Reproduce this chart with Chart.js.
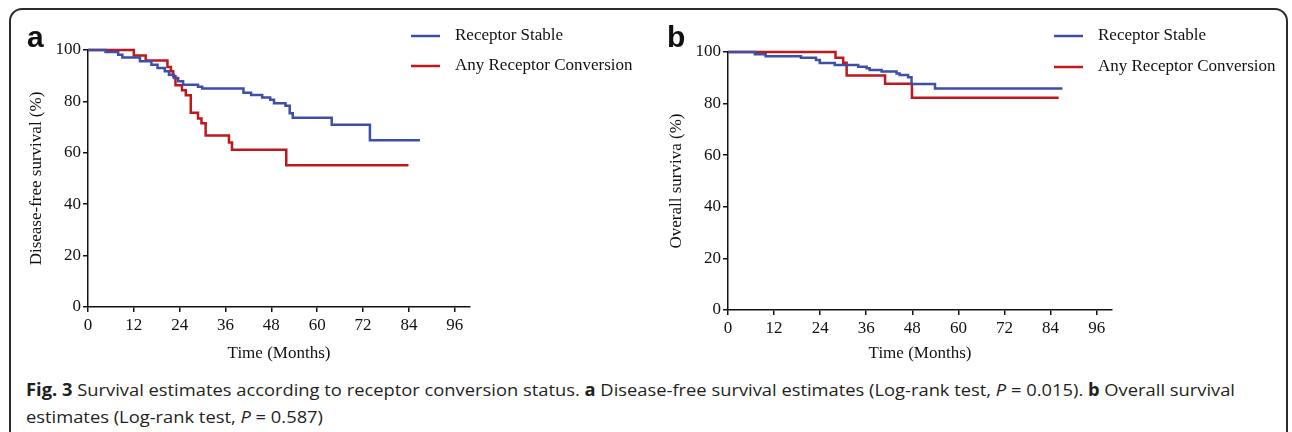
<!DOCTYPE html>
<html>
<head>
<meta charset="utf-8">
<script src="https://cdn.jsdelivr.net/npm/chart.js@4.4.0/dist/chart.umd.min.js"></script>
<style>
  html, body { margin: 0; padding: 0; background: #fff; }
  body { width: 1292px; height: 432px; position: relative; overflow: hidden; }
  #frame { position: absolute; left: 9px; top: 8px; width: 1275px; height: 450px;
           border: 2px solid #2b2b2b; border-radius: 13px; }
  canvas { position: absolute; top: 0; }
  #chartA { left: 0; }
  #chartB { left: 640px; }
  .panel { position: absolute; top: 22px; font: bold 30px "Liberation Sans", Arial, sans-serif;
           line-height: 30px; color: #111; }
  #caption { position: absolute; left: 26px; top: 376px; font: 17px "Open Sans", sans-serif;
             line-height: 27px; color: #231f20; white-space: nowrap; transform-origin: 0 0; }
</style>
</head>
<body>
<div id="frame"></div>
<canvas id="chartA" width="640" height="370"></canvas>
<canvas id="chartB" width="640" height="370"></canvas>
<div class="panel" style="left:27px">a</div>
<div class="panel" style="left:667px">b</div>
<div id="caption">
  <div><span id="capLine1"><b>Fig. 3</b> Survival estimates according to receptor conversion status. <b>a</b> Disease-free survival estimates (Log-rank test, <i>P</i> = 0.015). <b>b</b> Overall survival</span></div>
  <div>estimates (Log-rank test, <i>P</i> = 0.587)</div>
</div>
<script>
const xTicks = [0, 12, 24, 36, 48, 60, 72, 84, 96];
const yTicks = [0, 20, 40, 60, 80, 100];
const seriesNames = ['Receptor Stable', 'Any Receptor Conversion'];

// a: disease-free survival
const dfsStableMonths = [0, 4.6, 7.9, 9.0, 13.6, 16.6, 18.2, 20.1, 21.2, 22.5, 23.6, 24.9, 28.8, 29.9,
                         40.7, 42.7, 45.6, 47.7, 48.7, 51.7, 52.8, 53.6, 63.8, 73.8, 86.9];
const dfsStablePct = [100, 99.2, 98.2, 97.1, 95.6, 94.3, 93.0, 91.7, 90.4, 89.1, 87.8, 86.5, 85.7, 85.0,
                      83.4, 82.5, 81.5, 80.6, 79.3, 78.3, 75.4, 73.6, 70.9, 64.9, 64.9];
const dfsConvMonths = [0, 12.0, 15.1, 20.8, 21.7, 22.3, 22.9, 24.6, 25.6, 26.9, 28.8, 29.7, 30.8,
                       36.9, 37.7, 51.9, 83.9];
const dfsConvPct = [100, 97.9, 95.9, 93.4, 91.7, 89.8, 86.3, 84.3, 82.4, 75.6, 73.3, 71.5, 66.7,
                    64.0, 61.2, 55.2, 55.2];

// b: overall survival
const osStableMonths = [0, 7.0, 9.8, 19.0, 22.9, 23.9, 27.8, 33.9, 36.1, 36.9, 40.0, 43.9, 44.7,
                        46.9, 47.8, 53.9, 87.1];
const osStablePct = [100, 99.1, 98.4, 97.8, 96.9, 95.7, 95.0, 94.3, 93.7, 93.0, 92.4, 91.7, 91.1,
                     90.2, 87.6, 85.9, 85.9];
const osConvMonths = [0, 28.0, 30.0, 30.9, 40.9, 47.9, 86.1];
const osConvPct = [100, 97.8, 95.8, 90.9, 87.7, 82.3, 82.3];

const blue = '#3d4fa6';
const red = '#c0171d';
const ink = '#111';
const serif = '"Liberation Serif", "Times New Roman", serif';

const toPoints = (xs, ys) => xs.map((x, i) => ({ x: x, y: ys[i] }));

// legend drawn next to the plot, as in the figure
const insetLegend = {
    id: 'insetLegend',
    afterDraw(chart, args, opts) {
        const ctx = chart.ctx;
        ctx.save();
        ctx.font = '17px ' + serif;
        ctx.textBaseline = 'middle';
        chart.data.datasets.forEach((ds, i) => {
            const y = opts.y + i * opts.rowGap;
            ctx.strokeStyle = ds.borderColor;
            ctx.lineWidth = 2.5;
            ctx.beginPath();
            ctx.moveTo(opts.x, y);
            ctx.lineTo(opts.x + 29, y);
            ctx.stroke();
            ctx.fillStyle = ink;
            ctx.fillText(ds.label, opts.textX, y);
        });
        ctx.restore();
    }
};

function axisStyle() {
    return {
        grid: { display: true, drawOnChartArea: false, drawTicks: true, tickLength: 5, color: ink, lineWidth: 1.5 },
        border: { display: true, color: ink, width: 1.5 }
    };
}

function buildChart(id, cfg) {
    return new Chart(document.getElementById(id), {
        type: 'line',
        data: {
            datasets: [
                { label: seriesNames[0], data: toPoints(cfg.stable[0], cfg.stable[1]), borderColor: blue,
                  borderWidth: 2.5, stepped: true, pointRadius: 0, clip: false },
                { label: seriesNames[1], data: toPoints(cfg.conv[0], cfg.conv[1]), borderColor: red,
                  borderWidth: 2.5, stepped: true, pointRadius: 0, clip: false }
            ]
        },
        options: {
            responsive: false,
            animation: false,
            devicePixelRatio: 1,
            layout: { padding: cfg.pad },
            plugins: {
                legend: { display: false },
                tooltip: { enabled: false },
                insetLegend: cfg.legend
            },
            scales: {
                x: {
                    type: 'linear', min: 0, max: 100,
                    afterBuildTicks: s => { s.ticks = xTicks.map(v => ({ value: v })); },
                    afterFit: s => { s.height = cfg.xH; },
                    ...axisStyle(),
                    ticks: { color: ink, font: { family: serif, size: 17 }, padding: 3, autoSkip: false, maxRotation: 0 },
                    title: { display: true, text: 'Time (Months)', color: ink, font: { family: serif, size: 17 },
                             padding: { top: 0, bottom: 6.5 } }
                },
                y: {
                    type: 'linear', min: 0, max: 100,
                    afterBuildTicks: s => { s.ticks = yTicks.map(v => ({ value: v })); },
                    afterFit: s => { s.width = 88; },
                    ...axisStyle(),
                    ticks: { color: ink, font: { family: serif, size: 17 }, padding: 2 },
                    title: { display: true, text: cfg.yTitle, color: ink, font: { family: serif, size: 17 },
                             padding: { top: 26.5, bottom: 0 } }
                }
            }
        },
        plugins: [insetLegend]
    });
}

buildChart('chartA', {
    stable: [dfsStableMonths, dfsStablePct],
    conv: [dfsConvMonths, dfsConvPct],
    yTitle: 'Disease-free survival (%)',
    pad: { left: 0, top: 50, right: 170, bottom: 0 },
    xH: 63,
    legend: { x: 411, y: 36, rowGap: 30, textX: 455 }
});

buildChart('chartB', {
    stable: [osStableMonths, osStablePct],
    conv: [osConvMonths, osConvPct],
    yTitle: 'Overall surviva (%)',
    pad: { left: 0, top: 52, right: 168, bottom: 0 },
    xH: 60,
    legend: { x: 414, y: 36, rowGap: 31, textX: 458 }
});

// squeeze the caption to the width it has in the figure
const line1 = document.getElementById('capLine1').getBoundingClientRect().width;
document.getElementById('caption').style.transform = 'scaleX(' + (1209 / line1) + ')';
</script>
</body>
</html>
